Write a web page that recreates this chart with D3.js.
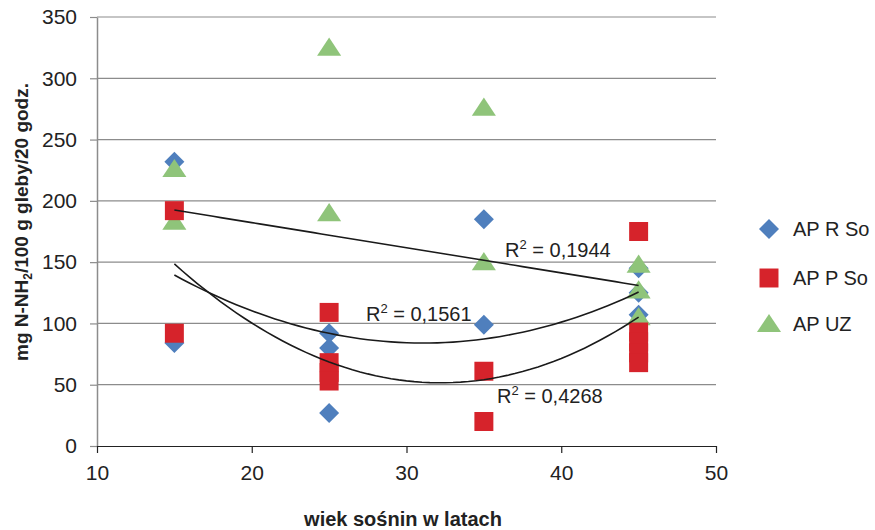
<!DOCTYPE html>
<meta charset="utf-8">
<style>
  body { margin: 0; background: #fff; }
  svg { font-family: "Liberation Sans", Arial, sans-serif; }
</style>
<svg width="875" height="530"></svg>
<script src="https://cdn.jsdelivr.net/npm/d3@7"></script>
<script>
// values
var seriesNames = ["AP R So", "AP P So", "AP UZ"];
var seriesColors = ["#4f7fbd", "#d6232b", "#8fc47a"];

var rAge = [15, 15, 25, 25, 25, 35, 35, 45, 45, 45];
var rVal = [232, 84, 92, 80, 27, 185, 99, 145, 125, 107];

var pAge = [15, 15, 25, 25, 25, 25, 35, 35, 45, 45, 45, 45, 45];
var pVal = [192, 92, 109, 68, 60, 53, 61, 20, 175, 93, 85, 76, 68];

var uzAge = [15, 15, 25, 25, 35, 35, 45, 45, 45];
var uzVal = [226, 183, 325, 190, 276, 150, 148, 127, 105];

// trendlines: c0 + c1*x + c2*x^2
var trendCoef = [
  [223.25, -2.05, 0],
  [291.3, -13.34, 0.2146],
  [391.2, -21.09, 0.3274]
];
var r2Text = ["0,1944", "0,1561", "0,4268"];
var r2Pos = [[36.37, 154], [27.38, 102], [35.85, 35]];

var xTicks = [10, 20, 30, 40, 50];
var yTicks = [0, 50, 100, 150, 200, 250, 300, 350];

var svg = d3.select("svg");
var plotL = 97, plotR = 716, plotT = 17, plotB = 446;

var x = d3.scaleLinear().domain([10, 50]).range([plotL, plotR]);
var y = d3.scaleLinear().domain([0, 350]).range([plotB, plotT]);

// gridlines
svg.append("g").selectAll("line").data(yTicks.filter(function(d) { return d > 0; }))
  .enter().append("line")
  .attr("x1", plotL).attr("x2", plotR)
  .attr("y1", function(d) { return y(d); }).attr("y2", function(d) { return y(d); })
  .attr("stroke", "#8c8c8c").attr("stroke-width", 1.2);

var yAxis = svg.append("g")
  .attr("transform", "translate(" + plotL + ",0)")
  .call(d3.axisLeft(y).tickValues(yTicks).tickSize(7).tickPadding(13).tickSizeOuter(0));
yAxis.select(".domain").attr("stroke", "#8c8c8c").attr("stroke-width", 1.5);
yAxis.selectAll(".tick line").attr("stroke", "#8c8c8c").attr("stroke-width", 1.2);
yAxis.selectAll("text").attr("font-size", 21).attr("fill", "#222").attr("font-family", "Liberation Sans, Arial, sans-serif");

var xAxis = svg.append("g")
  .attr("transform", "translate(0," + plotB + ")")
  .call(d3.axisBottom(x).tickValues(xTicks).tickSize(7).tickPadding(12).tickSizeOuter(0));
xAxis.select(".domain").attr("stroke", "#222").attr("stroke-width", 1.2);
xAxis.selectAll(".tick line").attr("stroke", "#222").attr("stroke-width", 1.2);
xAxis.selectAll("text").attr("font-size", 21).attr("fill", "#222").attr("font-family", "Liberation Sans, Arial, sans-serif");

// markers
var diamond = d3.symbol().type(d3.symbolSquare).size(200);
var square = d3.symbol().type(d3.symbolSquare).size(360);
var tri = d3.symbol().type(d3.symbolTriangle).size(190);

function drawSeries(ages, vals, color, kind) {
  var g = svg.append("g");
  var pts = ages.map(function(a, i) { return [a, vals[i]]; });
  g.selectAll("path").data(pts).enter().append("path")
    .attr("d", kind == "d" ? diamond : kind == "s" ? square : tri)
    .attr("transform", function(d) {
      var t = "translate(" + x(d[0]) + "," + y(d[1]) + ")";
      if (kind == "d") t += " rotate(45)";
      if (kind == "t") t += " translate(0,2) scale(1.15,1)";
      return t;
    })
    .attr("fill", color);
}
drawSeries(rAge, rVal, seriesColors[0], "d");
drawSeries(uzAge, uzVal, seriesColors[2], "t");
drawSeries(pAge, pVal, seriesColors[1], "s");

// trendlines
var line = d3.line().x(function(d) { return x(d[0]); }).y(function(d) { return y(d[1]); });
trendCoef.forEach(function(c) {
  var pts = d3.range(15, 45.01, 0.5).map(function(a) { return [a, c[0] + c[1] * a + c[2] * a * a]; });
  svg.append("path").datum(pts)
    .attr("d", line)
    .attr("fill", "none")
    .attr("stroke", "#1a1a1a")
    .attr("stroke-width", 1.6);
});

// R2 labels
r2Text.forEach(function(t, i) {
  var txt = svg.append("text")
    .attr("x", x(r2Pos[i][0]))
    .attr("y", y(r2Pos[i][1]))
    .attr("font-size", 20)
    .attr("fill", "#222");
  txt.append("tspan").text("R");
  txt.append("tspan").attr("font-size", 13).attr("dy", -8).text("2");
  txt.append("tspan").attr("dy", 8).text(" = " + t);
});

// legend
var legend = svg.append("g").attr("transform", "translate(769,0)");
var legendY = [229, 278, 324];
var legendShape = ["d", "s", "t"];
legendY.forEach(function(ly, i) {
  var k = legendShape[i];
  legend.append("path")
    .attr("d", k == "d" ? diamond : k == "s" ? square : tri)
    .attr("transform", "translate(0," + ly + ")" + (k == "d" ? " rotate(45)" : k == "t" ? " translate(0,2) scale(1.15,1)" : ""))
    .attr("fill", seriesColors[i]);
  legend.append("text")
    .attr("x", 24).attr("y", ly).attr("dy", "0.36em")
    .attr("font-size", 20).attr("fill", "#222")
    .text(seriesNames[i]);
});

// axis titles
svg.append("text")
  .attr("x", 403).attr("y", 526)
  .attr("text-anchor", "middle")
  .attr("font-size", 20).attr("font-weight", "bold").attr("fill", "#222")
  .text("wiek sośnin w latach");

var yt = svg.append("text")
  .attr("transform", "translate(28,222) rotate(-90)")
  .attr("text-anchor", "middle")
  .attr("font-size", 19).attr("font-weight", "bold").attr("fill", "#222");
yt.append("tspan").text("mg N-NH");
yt.append("tspan").attr("font-size", 12).attr("dy", 4).text("2");
yt.append("tspan").attr("dy", -4).text("/100 g gleby/20 godz.");
</script>
